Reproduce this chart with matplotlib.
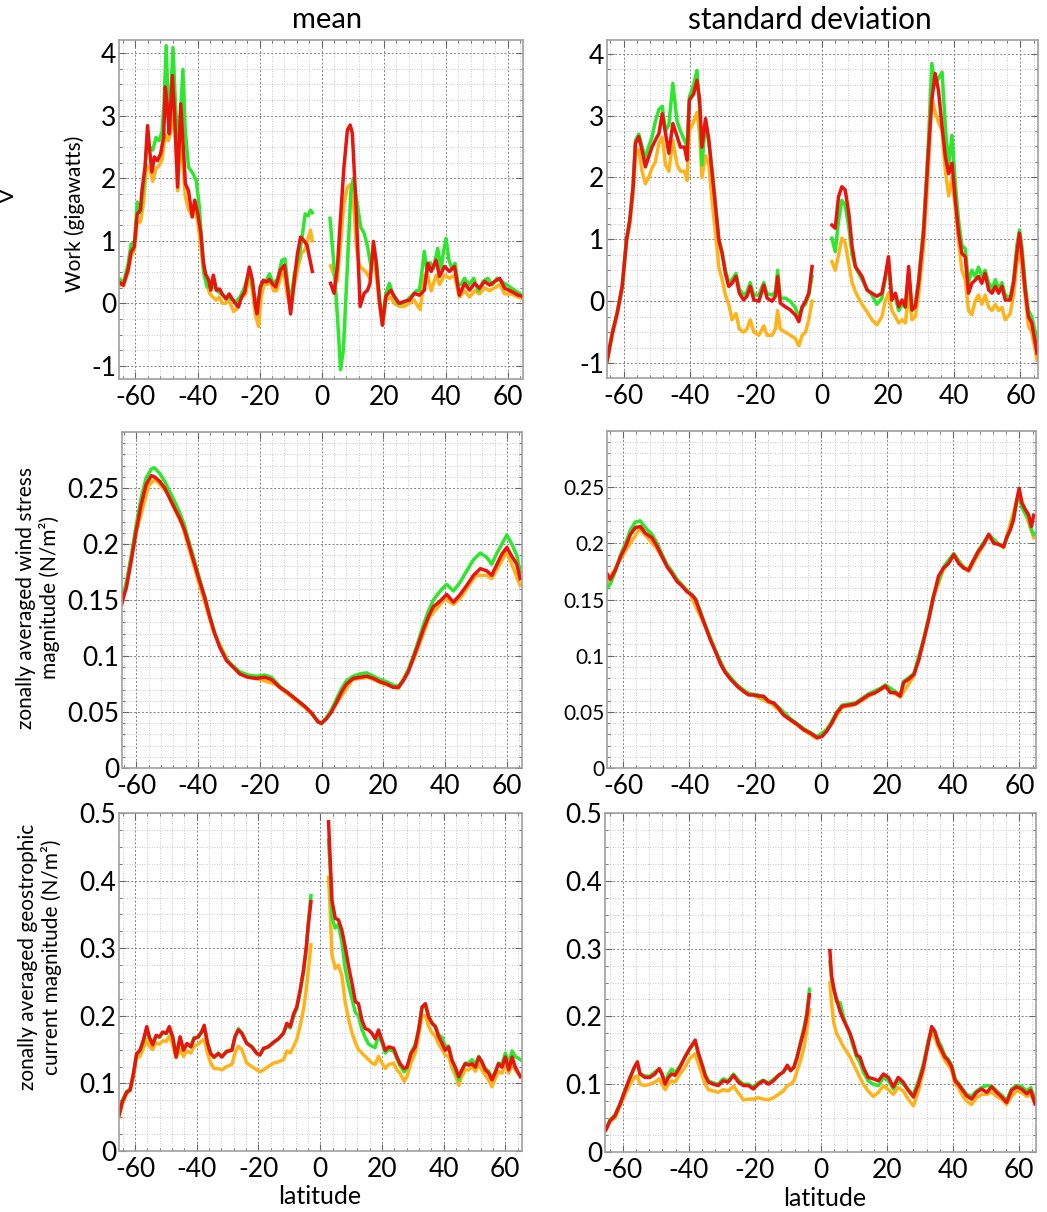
import numpy as np
import matplotlib.pyplot as plt
from matplotlib.ticker import AutoMinorLocator, FuncFormatter

plt.rcParams['font.family'] = ['Lato', 'DejaVu Sans']
plt.rcParams['axes.unicode_minus'] = False

nan = np.nan

# ---- work, mean (gigawatts) ----
lat_wm_red = [-65.4, -63.9, -62.4, -61.4, -60.4, -59.4, -58.4, -57.9, -56.9, -56.1,
              -55.4, -54.7, -53.9, -52.9, -51.9, -50.9, -50.4, -49.7, -49.1, -48.1,
              -47.4, -46.4, -45.4, -44.7, -43.9, -42.9, -41.7, -40.9, -39.9, -38.9,
              -38.1, -37.4, -36.4, -35.7, -34.9, -33.9, -32.9, -31.8, -30.8, -29.8,
              -28.8, -27.8, -26.8, -25.8, -24.8, -23.3, -22.3, -21.3, -20.8, -19.8,
              -18.8, -17.8, -16.8, -15.8, -14.8, -13.3, -12.0, -11.0, -10.0, -8.8,
              -7.8, -6.8, -5.8, -4.7, -3.0, nan,
              2.9, 4.0, 5.1, 6.1, 7.2, 8.3, 9.2, 9.9, 11.0, 12.4,
              13.7, 14.8, 15.6, 16.7, 17.5, 18.6, 19.6, 20.7, 22.3, 23.4,
              25.0, 26.6, 28.3, 29.9, 31.5, 33.1, 34.2, 35.3, 36.9, 38.0,
              39.6, 41.2, 42.8, 44.4, 46.1, 47.7, 49.3, 50.9, 52.5, 54.2,
              55.8, 57.4, 59.0, 61.2, 63.3, 64.9]
wm_red = [0.34, 0.29, 0.53, 0.82, 0.90, 1.43, 1.49, 1.80, 2.18, 2.84,
          2.44, 2.10, 2.34, 2.28, 2.39, 2.66, 3.46, 3.14, 2.71, 3.64,
          3.03, 1.86, 3.19, 2.60, 1.91, 1.80, 1.38, 1.65, 1.43, 1.11,
          0.66, 0.47, 0.37, 0.21, 0.45, 0.21, 0.23, 0.13, 0.07, 0.15,
          0.07, 0.0, -0.06, 0.10, 0.18, 0.58, 0.37, -0.06, -0.17, 0.26,
          0.37, 0.34, 0.38, 0.31, 0.26, 0.53, 0.61, 0.26, -0.17, 0.37,
          0.79, 1.06, 1.01, 0.93, 0.51, nan,
          0.32, 0.16, 0.59, 1.38, 2.18, 2.77, 2.85, 2.72, 1.65, -0.05,
          0.16, 0.21, 0.32, 0.99, 0.69, 0.05, -0.35, 0.11, 0.21, 0.11,
          0.0, 0.03, 0.05, 0.16, 0.13, 0.21, 0.64, 0.51, 0.69, 0.43,
          0.59, 0.51, 0.59, 0.13, 0.32, 0.21, 0.32, 0.24, 0.35, 0.29,
          0.35, 0.40, 0.24, 0.19, 0.13, 0.11]

lat_wm_green = [-65.4, -63.9, -62.4, -61.4, -60.4, -59.4, -58.4, -57.4, -56.4, -55.4,
                -54.4, -53.4, -52.4, -51.4, -50.8, -50.1, -49.4, -48.9, -47.9, -47.2,
                -46.4, -45.5, -44.7, -44.0, -42.9, -41.4, -40.4, -39.4, -38.4, -37.9,
                -36.9, -35.4, -33.9, -32.4, -30.8, -29.3, -27.8, -26.3, -24.8, -23.3,
                -21.8, -20.8, -19.3, -17.8, -16.8, -15.8, -14.3, -12.8, -11.8, -10.8,
                -10.0, -8.8, -7.3, -6.3, -5.3, -4.3, -3.6, -3.0, nan,
                2.7, 4.0, 5.1, 6.1, 7.0, 8.3, 9.4, 10.2, 11.3, 12.6,
                13.7, 14.8, 15.9, 16.9, 17.8, 18.6, 19.6, 20.7, 21.8, 23.0,
                24.5, 26.0, 27.5, 29.0, 30.5, 31.5, 32.3, 33.1, 34.0, 35.0,
                36.0, 37.4, 38.5, 39.2, 40.1, 41.0, 42.0, 43.0, 44.0, 45.0,
                46.0, 47.5, 49.0, 50.5, 52.0, 53.5, 55.0, 56.5, 58.0, 59.5,
                61.0, 62.5, 64.0, 64.9]
wm_green = [0.40, 0.33, 0.62, 0.95, 0.95, 1.62, 1.45, 1.85, 2.45, 2.50,
            2.45, 2.65, 2.60, 2.75, 3.20, 4.12, 3.10, 3.00, 4.09, 3.30,
            2.50, 3.00, 3.74, 2.80, 2.18, 2.07, 1.96, 1.54, 0.79, 0.47,
            0.26, 0.31, 0.21, 0.15, 0.10, 0.07, 0.02, 0.10, 0.26, 0.53,
            0.15, -0.06, 0.31, 0.37, 0.47, 0.34, 0.37, 0.69, 0.71, 0.26,
            0.0, 0.47, 0.74, 1.06, 1.43, 1.40, 1.49, 1.45, nan,
            1.36, 0.59, -0.21, -1.06, -0.75, 0.59, 1.76, 2.00, 1.65, 1.22,
            1.12, 0.91, 0.59, 0.85, 0.60, 0.10, -0.30, 0.15, 0.32, 0.15,
            0.0, 0.0, 0.05, 0.12, 0.20, 0.20, 0.50, 0.83, 0.50, 0.65,
            0.55, 0.88, 0.55, 0.80, 1.04, 0.70, 0.55, 0.64, 0.30, 0.30,
            0.40, 0.30, 0.40, 0.20, 0.35, 0.40, 0.30, 0.40, 0.35, 0.30,
            0.25, 0.20, 0.15, 0.12]

lat_wm_orange = [-65.4, -63.9, -62.4, -61.4, -60.4, -59.4, -58.4, -57.4, -56.4, -55.4,
                 -54.4, -53.4, -52.4, -51.4, -50.4, -49.4, -48.4, -47.8, -47.0, -46.4,
                 -45.5, -44.7, -43.9, -42.9, -41.9, -40.9, -39.9, -38.9, -38.1, -37.0,
                 -36.0, -35.0, -34.0, -33.0, -32.0, -31.0, -30.0, -29.0, -28.4, -27.5,
                 -26.5, -25.5, -24.5, -23.3, -22.3, -21.3, -20.3, -19.5, -18.5, -17.5,
                 -16.5, -15.5, -14.5, -13.3, -12.3, -11.3, -10.0, -8.8, -7.5, -6.5,
                 -5.5, -4.5, -3.6, -3.0, nan,
                 2.9, 4.0, 5.0, 6.0, 7.2, 8.3, 9.3, 10.3, 11.2, 12.2,
                 13.2, 14.3, 15.5, 16.7, 17.5, 18.6, 19.6, 20.7, 22.3, 23.4,
                 25.0, 26.6, 28.3, 29.9, 31.0, 31.8, 33.1, 34.2, 35.3, 36.9,
                 38.0, 39.6, 41.2, 42.8, 44.4, 46.1, 47.7, 49.3, 50.9, 52.5,
                 54.2, 55.8, 57.4, 59.0, 61.2, 63.3, 64.9]
wm_orange = [0.30, 0.28, 0.50, 0.75, 0.85, 1.30, 1.30, 1.60, 2.20, 2.15,
             1.95, 2.15, 2.20, 2.30, 2.70, 2.60, 2.80, 3.10, 2.60, 1.80,
             2.90, 2.20, 1.70, 1.50, 1.41, 1.50, 1.30, 0.90, 0.50, 0.30,
             0.15, 0.10, 0.05, 0.10, 0.0, 0.0, 0.05, -0.05, -0.13, -0.10,
             0.05, 0.10, 0.15, 0.45, 0.20, -0.20, -0.37, 0.10, 0.30, 0.30,
             0.35, 0.20, 0.20, 0.40, 0.55, 0.20, -0.10, 0.30, 0.60, 0.80,
             0.85, 1.00, 1.17, 1.00, nan,
             0.60, 0.45, 0.35, 0.90, 1.60, 1.85, 1.90, 1.60, 0.90, 0.60,
             0.55, 0.50, 0.40, 0.85, 0.50, 0.0, -0.35, 0.05, 0.10, 0.0,
             -0.05, -0.05, 0.0, 0.05, -0.05, -0.10, 0.45, 0.45, 0.20, 0.45,
             0.30, 0.45, 0.40, 0.45, 0.10, 0.20, 0.10, 0.20, 0.15, 0.25,
             0.20, 0.25, 0.30, 0.15, 0.15, 0.10, 0.07]

# ---- work, standard deviation ----
lat_ws = [-65.0, -63.4, -61.9, -60.4, -59.1, -58.1, -57.1, -56.4, -55.4, -54.4,
          -53.4, -52.4, -51.4, -50.4, -49.3, -48.3, -47.3, -46.3, -45.1, -43.8,
          -42.8, -41.6, -40.8, -40.1, -38.8, -37.8, -37.0, -36.3, -35.2, -34.2,
          -33.2, -32.2, -31.2, -30.2, -29.2, -28.2, -27.2, -26.0, -25.0, -23.7,
          -22.7, -21.7, -20.6, -19.1, -17.6, -16.6, -15.1, -14.1, -13.4, -12.6,
          -11.1, -9.6, -8.1, -7.0, -6.0, -5.0, -4.0, -3.0, nan,
          3.0, 4.0, 5.0, 6.0, 7.0, 8.1, 9.1, 10.1, 11.1, 12.1,
          13.6, 15.1, 16.6, 18.1, 19.1, 20.1, 21.1, 22.2, 23.2, 24.2,
          25.2, 26.2, 27.2, 28.2, 29.2, 30.7, 32.2, 33.2, 34.2, 35.2,
          36.3, 37.3, 38.3, 39.3, 40.3, 41.3, 42.3, 43.3, 44.3, 45.3,
          46.3, 47.3, 48.3, 49.3, 50.4, 51.4, 52.4, 53.4, 54.4, 55.4,
          56.9, 57.9, 58.9, 59.7, 60.4, 61.4, 62.4, 63.4, 64.5, 65.0]
ws_red = [-0.97, -0.52, -0.19, 0.24, 0.99, 1.31, 1.85, 2.55, 2.66, 2.44,
          2.17, 2.33, 2.49, 2.60, 2.71, 3.03, 2.71, 2.39, 2.87, 2.66,
          2.49, 2.49, 2.28, 3.25, 3.35, 3.57, 3.25, 2.49, 2.95, 2.60,
          2.06, 1.53, 0.99, 0.77, 0.45, 0.24, 0.29, 0.40, 0.13, 0.02,
          0.08, 0.24, 0.02, 0.0, 0.26, 0.05, 0.0, 0.08, 0.40, -0.03,
          -0.09, -0.14, -0.22, -0.33, -0.09, 0.0, 0.13, 0.56, nan,
          1.23, 1.18, 1.69, 1.85, 1.80, 1.42, 0.88, 0.56, 0.48, 0.40,
          0.18, 0.13, 0.08, 0.13, 0.40, 0.72, 0.02, 0.13, -0.09, 0.02,
          -0.09, 0.56, -0.14, -0.09, 0.29, 1.10, 2.44, 3.25, 3.68, 3.41,
          2.82, 2.33, 2.06, 2.23, 1.63, 1.10, 0.77, 0.72, 0.13, 0.29,
          0.34, 0.40, 0.29, 0.45, 0.18, 0.13, 0.24, 0.13, 0.24, 0.02,
          0.02, 0.29, 0.77, 1.10, 0.77, 0.18, -0.25, -0.35, -0.68, -0.84]
ws_green = [-0.95, -0.50, -0.17, 0.26, 1.00, 1.33, 1.90, 2.60, 2.70, 2.50,
            2.30, 2.50, 2.65, 2.90, 3.10, 3.15, 2.75, 2.85, 3.52, 2.90,
            2.75, 2.60, 2.50, 3.30, 3.50, 3.73, 3.10, 2.20, 2.90, 2.55,
            2.10, 1.55, 1.00, 0.80, 0.50, 0.30, 0.35, 0.45, 0.20, 0.10,
            0.15, 0.30, 0.10, 0.10, 0.30, 0.12, 0.10, 0.15, 0.50, 0.05,
            0.05, 0.0, -0.10, -0.25, -0.10, -0.05, 0.10, 0.40, nan,
            1.02, 0.80, 1.30, 1.63, 1.55, 1.20, 0.75, 0.55, 0.45, 0.35,
            0.20, 0.10, -0.05, 0.05, 0.35, 0.60, 0.10, 0.05, -0.15, -0.05,
            -0.10, 0.45, -0.15, -0.05, 0.35, 1.20, 2.60, 3.84, 3.50, 3.60,
            3.70, 2.80, 2.20, 2.68, 1.90, 1.30, 0.90, 0.85, 0.30, 0.50,
            0.40, 0.55, 0.40, 0.50, 0.30, 0.20, 0.35, 0.20, 0.30, 0.10,
            0.05, 0.35, 0.90, 1.15, 0.90, 0.30, -0.15, -0.25, -0.50, -0.65]
ws_orange = [-0.97, -0.55, -0.20, 0.20, 0.95, 1.25, 1.75, 2.35, 2.45, 2.10,
             1.90, 2.00, 2.15, 2.25, 2.55, 2.65, 2.20, 2.10, 2.60, 2.20,
             2.10, 2.10, 1.95, 2.75, 2.90, 3.05, 2.70, 2.00, 2.35, 2.20,
             1.60, 1.10, 0.55, 0.35, 0.10, -0.05, -0.30, -0.20, -0.45, -0.50,
             -0.45, -0.30, -0.50, -0.55, -0.40, -0.55, -0.55, -0.45, -0.15, -0.45,
             -0.50, -0.55, -0.60, -0.72, -0.55, -0.50, -0.30, 0.0, nan,
             0.64, 0.50, 0.75, 1.02, 0.95, 0.60, 0.30, 0.15, 0.05, -0.05,
             -0.17, -0.30, -0.38, -0.25, 0.0, 0.13, -0.15, -0.25, -0.35, -0.30,
             -0.35, 0.13, -0.30, -0.25, 0.10, 0.90, 2.20, 3.30, 3.05, 2.90,
             2.75, 2.10, 1.70, 2.00, 1.50, 0.95, 0.50, 0.35, -0.15, -0.22,
             0.0, 0.10, -0.05, 0.10, -0.10, -0.15, -0.05, -0.15, -0.10, -0.30,
             -0.20, 0.10, 0.60, 0.80, 0.60, 0.10, -0.40, -0.50, -0.80, -0.95]

# ---- wind stress, mean ----
lat_tm = [-64.6, -63.2, -61.6, -60.0, -58.4, -56.8, -55.1, -54.1, -52.4, -50.8,
          -49.2, -47.6, -45.9, -44.3, -42.7, -41.1, -39.5, -37.8, -36.2, -34.6,
          -33.0, -30.8, -28.6, -26.5, -23.8, -21.1, -18.4, -16.2, -13.5, -10.8,
          -8.1, -5.4, -3.2, -1.1, 0.0, 1.6, 3.2, 4.9, 6.5, 8.1,
          10.3, 12.4, 14.6, 16.8, 18.9, 21.1, 23.2, 24.9, 26.5, 28.1,
          29.7, 31.4, 33.0, 34.6, 36.2, 38.4, 40.5, 42.7, 44.9, 47.0,
          49.2, 51.4, 53.5, 55.1, 56.8, 58.4, 60.0, 61.6, 63.2, 64.3]
tm_red = [0.148, 0.161, 0.185, 0.212, 0.235, 0.253, 0.261, 0.260, 0.256, 0.250,
          0.241, 0.232, 0.223, 0.212, 0.197, 0.182, 0.167, 0.152, 0.135, 0.120,
          0.108, 0.096, 0.090, 0.084, 0.081, 0.080, 0.081, 0.079, 0.072, 0.067,
          0.061, 0.055, 0.049, 0.041, 0.040, 0.044, 0.050, 0.059, 0.068, 0.075,
          0.080, 0.081, 0.082, 0.080, 0.077, 0.075, 0.072, 0.072, 0.078, 0.086,
          0.098, 0.111, 0.124, 0.135, 0.144, 0.149, 0.155, 0.148, 0.155, 0.163,
          0.172, 0.178, 0.176, 0.172, 0.182, 0.191, 0.197, 0.189, 0.182, 0.169]
tm_green = [0.152, 0.165, 0.190, 0.217, 0.241, 0.259, 0.267, 0.268, 0.263, 0.256,
            0.247, 0.238, 0.228, 0.216, 0.200, 0.185, 0.169, 0.153, 0.136, 0.121,
            0.109, 0.097, 0.091, 0.086, 0.083, 0.082, 0.083, 0.081, 0.073, 0.067,
            0.061, 0.055, 0.049, 0.041, 0.040, 0.045, 0.052, 0.062, 0.071, 0.078,
            0.082, 0.084, 0.085, 0.082, 0.079, 0.077, 0.074, 0.073, 0.079, 0.088,
            0.100, 0.114, 0.128, 0.140, 0.150, 0.158, 0.164, 0.158, 0.166, 0.176,
            0.186, 0.192, 0.188, 0.182, 0.192, 0.200, 0.208, 0.200, 0.190, 0.175]
lat_tm_orange = [-64.6, -60, -56, -54, -50, -45, -40, -35, -30, -25,
                 -20, -15, -10, -5, 0, 5, 10, 15, 20, 24.9,
                 30, 35, 40, 42.7, 45, 50, 53.5, 55.1, 60, 64.3]
tm_orange = [0.146, 0.210, 0.252, 0.258, 0.246, 0.216, 0.168, 0.122, 0.094, 0.082,
             0.079, 0.075, 0.064, 0.053, 0.039, 0.058, 0.079, 0.081, 0.075, 0.071,
             0.098, 0.135, 0.151, 0.146, 0.152, 0.172, 0.172, 0.169, 0.193, 0.163]

# ---- wind stress, standard deviation ----
lat_ts = [-64.9, -63.9, -62.4, -60.8, -59.3, -57.8, -56.3, -54.8, -53.3, -51.3,
          -49.7, -48.2, -46.7, -45.2, -43.7, -42.2, -40.7, -39.2, -38.1, -36.6,
          -35.1, -33.6, -32.1, -30.6, -29.1, -27.5, -25.5, -23.5, -22.0, -20.5,
          -19.0, -17.5, -15.9, -14.4, -12.9, -11.4, -9.4, -7.4, -5.3, -3.3,
          -1.3, 0.2, 1.7, 3.2, 4.7, 6.3, 8.3, 10.3, 12.3, 14.3,
          16.3, 17.9, 19.4, 20.9, 22.4, 23.9, 24.9, 26.4, 28.0, 29.5,
          31.0, 32.5, 34.0, 35.5, 37.0, 38.5, 40.1, 41.6, 43.1, 44.6,
          46.1, 47.6, 49.1, 50.7, 52.2, 53.7, 55.2, 56.2, 57.2, 58.2,
          59.2, 59.9, 60.7, 61.8, 62.8, 63.6, 64.3]
ts_red = [0.173, 0.168, 0.176, 0.188, 0.197, 0.208, 0.214, 0.215, 0.209, 0.205,
          0.197, 0.188, 0.179, 0.173, 0.166, 0.162, 0.157, 0.154, 0.150, 0.138,
          0.126, 0.114, 0.104, 0.093, 0.085, 0.079, 0.073, 0.068, 0.065, 0.065,
          0.064, 0.064, 0.059, 0.058, 0.053, 0.047, 0.043, 0.039, 0.034, 0.031,
          0.027, 0.028, 0.033, 0.040, 0.049, 0.055, 0.056, 0.057, 0.061, 0.065,
          0.067, 0.070, 0.073, 0.067, 0.067, 0.064, 0.076, 0.079, 0.083, 0.096,
          0.114, 0.132, 0.153, 0.171, 0.178, 0.182, 0.190, 0.182, 0.178, 0.176,
          0.185, 0.193, 0.199, 0.208, 0.200, 0.199, 0.197, 0.206, 0.212, 0.221,
          0.239, 0.249, 0.236, 0.230, 0.225, 0.215, 0.225]
lat_ts_green = [-64.9, -63.9, -62.4, -60.8, -59.3, -57.8, -56.3, -54.8, -53.3, -51.3,
                -49.7, -48.2, -46.7, -45.2, -43.7, -40.7, -38.1, -35.1, -32.1, -29.1,
                -25.5, -22.0, -19.0, -15.9, -12.9, -9.4, -5.3, -1.3, 1.7, 4.7,
                6.3, 10.3, 14.3, 17.9, 19.4, 22.4, 23.9, 24.9, 28.0, 31.0,
                34.0, 37.0, 40.1, 43.1, 44.6, 47.6, 50.7, 53.7, 55.2, 57.2,
                59.9, 60.7, 61.8, 62.8, 63.6, 64.3]
ts_green = [0.160, 0.164, 0.175, 0.190, 0.200, 0.212, 0.219, 0.220, 0.214, 0.208,
            0.200, 0.190, 0.181, 0.175, 0.168, 0.158, 0.151, 0.127, 0.105, 0.086,
            0.074, 0.066, 0.065, 0.060, 0.054, 0.044, 0.035, 0.028, 0.034, 0.050,
            0.056, 0.058, 0.066, 0.071, 0.074, 0.068, 0.065, 0.077, 0.084, 0.115,
            0.154, 0.179, 0.191, 0.178, 0.177, 0.194, 0.208, 0.199, 0.197, 0.212,
            0.245, 0.232, 0.226, 0.222, 0.212, 0.208]
lat_ts_orange = [-64.9, -60, -55, -50, -45, -40, -35, -30, -25, -20,
                 -15, -10, -5, -1.3, 3, 6.3, 10, 15, 19.4, 23.9,
                 28, 31, 34, 37, 40, 44.6, 50.7, 55.2, 59.9, 62, 64.3]
ts_orange = [0.165, 0.190, 0.213, 0.196, 0.172, 0.156, 0.125, 0.090, 0.071, 0.064,
             0.057, 0.044, 0.033, 0.026, 0.039, 0.054, 0.056, 0.065, 0.072, 0.063,
             0.082, 0.113, 0.152, 0.177, 0.189, 0.175, 0.207, 0.196, 0.246, 0.225, 0.205]

# ---- geostrophic current, mean ----
lat_gm = [-65.2, -64.1, -62.7, -61.6, -60.5, -59.5, -58.4, -57.3, -56.2, -55.4,
          -54.3, -53.2, -52.1, -51.0, -49.9, -48.9, -47.8, -46.7, -45.4, -44.3,
          -43.2, -41.9, -40.9, -39.5, -38.4, -37.6, -36.5, -35.5, -34.4, -33.0,
          -31.9, -30.3, -28.6, -27.6, -26.5, -25.4, -23.8, -22.2, -20.5, -19.5,
          -18.4, -16.8, -15.1, -13.5, -11.9, -10.8, -9.7, -8.6, -7.6, -6.5,
          -5.4, -4.5, -3.8, -3.0, nan,
          2.7, 3.2, 3.8, 4.9, 5.9, 7.0, 8.1, 9.2, 10.3, 11.4,
          12.4, 13.5, 14.6, 15.7, 16.8, 17.8, 18.9, 20.0, 21.1, 22.2,
          23.8, 24.9, 25.9, 27.2, 28.1, 29.4, 30.8, 31.9, 33.0, 34.1,
          35.1, 36.2, 37.3, 38.4, 39.5, 40.5, 41.6, 42.7, 43.8, 44.9,
          45.9, 47.0, 48.1, 49.2, 50.3, 51.4, 52.4, 53.5, 54.6, 55.7,
          56.8, 57.8, 58.9, 60.0, 61.1, 62.2, 63.2, 64.9]
gm_red = [0.053, 0.073, 0.087, 0.090, 0.115, 0.144, 0.149, 0.164, 0.184, 0.169,
          0.157, 0.171, 0.169, 0.176, 0.174, 0.184, 0.169, 0.139, 0.169, 0.149,
          0.159, 0.154, 0.166, 0.169, 0.176, 0.186, 0.159, 0.144, 0.139, 0.144,
          0.139, 0.147, 0.149, 0.169, 0.179, 0.174, 0.159, 0.154, 0.144, 0.142,
          0.152, 0.154, 0.161, 0.166, 0.174, 0.189, 0.184, 0.203, 0.213, 0.238,
          0.268, 0.302, 0.337, 0.369, nan,
          0.487, 0.436, 0.371, 0.344, 0.342, 0.327, 0.302, 0.273, 0.248, 0.221,
          0.218, 0.194, 0.181, 0.179, 0.174, 0.166, 0.179, 0.164, 0.149, 0.154,
          0.152, 0.139, 0.129, 0.122, 0.124, 0.144, 0.154, 0.179, 0.213, 0.218,
          0.199, 0.189, 0.184, 0.169, 0.159, 0.149, 0.154, 0.134, 0.124, 0.110,
          0.120, 0.129, 0.127, 0.129, 0.124, 0.139, 0.132, 0.120, 0.115, 0.105,
          0.117, 0.129, 0.124, 0.139, 0.120, 0.139, 0.124, 0.110]
gm_green = [0.055, 0.075, 0.088, 0.092, 0.115, 0.142, 0.148, 0.162, 0.180, 0.167,
            0.158, 0.170, 0.168, 0.175, 0.174, 0.180, 0.168, 0.140, 0.165, 0.150,
            0.158, 0.155, 0.168, 0.168, 0.178, 0.182, 0.160, 0.145, 0.138, 0.145,
            0.140, 0.148, 0.150, 0.170, 0.181, 0.175, 0.160, 0.155, 0.145, 0.143,
            0.150, 0.155, 0.160, 0.166, 0.175, 0.185, 0.182, 0.200, 0.210, 0.235,
            0.265, 0.300, 0.340, 0.378, nan,
            0.460, 0.420, 0.345, 0.330, 0.335, 0.310, 0.270, 0.245, 0.225, 0.205,
            0.200, 0.180, 0.168, 0.158, 0.155, 0.153, 0.172, 0.160, 0.145, 0.150,
            0.148, 0.136, 0.126, 0.117, 0.122, 0.145, 0.158, 0.180, 0.212, 0.215,
            0.200, 0.190, 0.185, 0.172, 0.168, 0.155, 0.155, 0.135, 0.120, 0.105,
            0.118, 0.130, 0.130, 0.135, 0.128, 0.140, 0.130, 0.122, 0.118, 0.108,
            0.118, 0.130, 0.128, 0.145, 0.130, 0.148, 0.140, 0.135]
gm_orange = [0.050, 0.070, 0.085, 0.090, 0.110, 0.138, 0.140, 0.152, 0.165, 0.155,
             0.150, 0.160, 0.158, 0.163, 0.162, 0.170, 0.157, 0.138, 0.150, 0.140,
             0.148, 0.145, 0.155, 0.158, 0.163, 0.165, 0.145, 0.130, 0.122, 0.122,
             0.120, 0.125, 0.128, 0.145, 0.155, 0.150, 0.130, 0.125, 0.120, 0.117,
             0.120, 0.125, 0.130, 0.132, 0.135, 0.148, 0.145, 0.155, 0.165, 0.185,
             0.210, 0.240, 0.270, 0.305, nan,
             0.405, 0.360, 0.290, 0.270, 0.275, 0.260, 0.220, 0.195, 0.175, 0.160,
             0.150, 0.145, 0.140, 0.135, 0.130, 0.128, 0.140, 0.130, 0.122, 0.128,
             0.130, 0.120, 0.115, 0.103, 0.110, 0.130, 0.145, 0.170, 0.200, 0.200,
             0.185, 0.175, 0.170, 0.158, 0.150, 0.142, 0.140, 0.123, 0.112, 0.097,
             0.110, 0.120, 0.120, 0.125, 0.118, 0.128, 0.120, 0.112, 0.105, 0.095,
             0.108, 0.118, 0.115, 0.128, 0.115, 0.130, 0.120, 0.110]

# ---- geostrophic current, standard deviation ----
lat_gs = [-65.1, -63.9, -62.4, -60.8, -59.3, -57.8, -56.5, -55.6, -54.8, -53.3,
          -51.8, -50.3, -49.0, -48.2, -47.2, -46.2, -45.2, -44.2, -42.7, -41.2,
          -39.7, -38.1, -37.1, -36.1, -35.1, -34.1, -32.6, -31.1, -29.6, -28.1,
          -26.5, -25.0, -23.5, -22.0, -20.5, -19.0, -17.5, -15.9, -14.4, -12.9,
          -11.4, -10.2, -9.2, -8.2, -7.2, -6.2, -5.1, -4.3, -3.5, nan,
          2.7, 3.2, 3.9, 4.7, 5.8, 6.8, 7.8, 8.8, 9.8, 10.8,
          11.8, 12.8, 14.3, 15.8, 17.4, 18.9, 20.4, 21.9, 23.4, 24.9,
          26.4, 28.0, 29.5, 31.0, 32.5, 33.5, 34.5, 35.5, 36.5, 37.5,
          38.5, 39.6, 40.6, 41.6, 42.6, 44.1, 45.6, 47.1, 48.6, 50.2,
          51.7, 53.2, 54.7, 56.2, 57.7, 59.2, 60.7, 62.3, 63.5, 64.8]
gs_red = [0.033, 0.046, 0.053, 0.071, 0.091, 0.110, 0.125, 0.133, 0.115, 0.110,
          0.110, 0.115, 0.123, 0.115, 0.100, 0.110, 0.115, 0.113, 0.125, 0.140,
          0.153, 0.165, 0.145, 0.130, 0.113, 0.103, 0.100, 0.098, 0.105, 0.103,
          0.113, 0.103, 0.098, 0.098, 0.093, 0.100, 0.105, 0.100, 0.105, 0.113,
          0.118, 0.128, 0.120, 0.125, 0.140, 0.160, 0.180, 0.200, 0.232, nan,
          0.297, 0.260, 0.240, 0.225, 0.207, 0.195, 0.185, 0.175, 0.160, 0.143,
          0.140, 0.125, 0.110, 0.108, 0.105, 0.115, 0.110, 0.096, 0.110, 0.103,
          0.091, 0.081, 0.100, 0.125, 0.160, 0.185, 0.178, 0.160, 0.150, 0.140,
          0.135, 0.125, 0.105, 0.100, 0.093, 0.083, 0.078, 0.088, 0.093, 0.088,
          0.096, 0.088, 0.081, 0.073, 0.091, 0.096, 0.093, 0.086, 0.091, 0.071]
gs_green = [0.035, 0.047, 0.055, 0.072, 0.092, 0.110, 0.125, 0.130, 0.116, 0.112,
            0.112, 0.118, 0.122, 0.117, 0.103, 0.115, 0.122, 0.117, 0.127, 0.140,
            0.152, 0.162, 0.145, 0.130, 0.115, 0.105, 0.102, 0.100, 0.108, 0.105,
            0.115, 0.106, 0.100, 0.100, 0.096, 0.102, 0.106, 0.102, 0.107, 0.113,
            0.118, 0.125, 0.120, 0.125, 0.142, 0.162, 0.185, 0.205, 0.240, nan,
            0.280, 0.255, 0.240, 0.222, 0.220, 0.200, 0.185, 0.172, 0.155, 0.140,
            0.132, 0.118, 0.105, 0.100, 0.098, 0.110, 0.105, 0.093, 0.105, 0.100,
            0.092, 0.085, 0.105, 0.130, 0.165, 0.180, 0.175, 0.165, 0.155, 0.142,
            0.137, 0.128, 0.108, 0.102, 0.095, 0.085, 0.082, 0.090, 0.095, 0.098,
            0.097, 0.090, 0.084, 0.076, 0.093, 0.098, 0.097, 0.090, 0.095, 0.078]
gs_orange = [0.033, 0.045, 0.050, 0.068, 0.085, 0.100, 0.110, 0.112, 0.100, 0.098,
             0.100, 0.103, 0.108, 0.100, 0.092, 0.100, 0.105, 0.103, 0.115, 0.125,
             0.138, 0.145, 0.130, 0.115, 0.100, 0.092, 0.090, 0.088, 0.092, 0.090,
             0.097, 0.087, 0.077, 0.078, 0.078, 0.080, 0.078, 0.077, 0.080, 0.085,
             0.090, 0.098, 0.100, 0.105, 0.120, 0.135, 0.155, 0.180, 0.210, nan,
             0.250, 0.220, 0.190, 0.175, 0.165, 0.155, 0.148, 0.140, 0.130, 0.120,
             0.110, 0.100, 0.090, 0.082, 0.088, 0.098, 0.092, 0.085, 0.095, 0.090,
             0.078, 0.068, 0.090, 0.120, 0.165, 0.175, 0.168, 0.155, 0.145, 0.135,
             0.128, 0.120, 0.100, 0.095, 0.085, 0.075, 0.070, 0.080, 0.085, 0.085,
             0.088, 0.082, 0.078, 0.070, 0.082, 0.090, 0.088, 0.082, 0.085, 0.072]

x_ticks = [-60, -40, -20, 0, 20, 40, 60]
col_orange = '#ffb31a'
col_green = '#2ee62e'
col_red = '#e8150f'

W, H = 1047, 1212
fig = plt.figure(figsize=(W / 100, H / 100), dpi=100)


def box(left, top, right, bottom):
    return [left / W, 1 - bottom / H, (right - left) / W, (bottom - top) / H]


panels = [
    dict(rect=box(119, 40, 523, 379), xlim=(-65.3, 64.9), ylim=(-1.21, 4.21),
         yt=[-1, 0, 1, 2, 3, 4], ymin=4, ysize=19,
         series=[(lat_wm_orange, wm_orange), (lat_wm_green, wm_green), (lat_wm_red, wm_red)]),
    dict(rect=box(607, 40, 1038, 378), xlim=(-65.0, 65.3), ylim=(-1.24, 4.22),
         yt=[-1, 0, 1, 2, 3, 4], ymin=4, ysize=19,
         series=[(lat_ws, ws_orange), (lat_ws, ws_green), (lat_ws, ws_red)]),
    dict(rect=box(122, 432, 522, 768), xlim=(-64.6, 64.9), ylim=(0, 0.3),
         yt=[0, 0.05, 0.1, 0.15, 0.2, 0.25], ymin=5, ysize=19,
         series=[(lat_tm_orange, tm_orange), (lat_tm, tm_green), (lat_tm, tm_red)]),
    dict(rect=box(607, 431, 1036, 768), xlim=(-64.9, 65.0), ylim=(0, 0.3),
         yt=[0, 0.05, 0.1, 0.15, 0.2, 0.25], ymin=5, ysize=15,
         series=[(lat_ts_orange, ts_orange), (lat_ts_green, ts_green), (lat_ts, ts_red)]),
    dict(rect=box(119, 813, 522, 1151), xlim=(-65.2, 65.4), ylim=(0, 0.5),
         yt=[0, 0.1, 0.2, 0.3, 0.4, 0.5], ymin=4, ysize=19,
         series=[(lat_gm, gm_orange), (lat_gm, gm_green), (lat_gm, gm_red)]),
    dict(rect=box(605, 813, 1036, 1152), xlim=(-65.4, 65.1), ylim=(0, 0.5),
         yt=[0, 0.1, 0.2, 0.3, 0.4, 0.5], ymin=4, ysize=19,
         series=[(lat_gs, gs_orange), (lat_gs, gs_green), (lat_gs, gs_red)]),
]

for p in panels:
    ax = fig.add_axes(p['rect'])
    for (lat, vals), c in zip(p['series'], [col_orange, col_green, col_red]):
        ax.plot(lat, vals, color=c, lw=2.5, solid_joinstyle='round')
    ax.set_xlim(*p['xlim'])
    ax.set_ylim(*p['ylim'])
    ax.set_xticks(x_ticks)
    ax.set_yticks(p['yt'])
    ax.xaxis.set_minor_locator(AutoMinorLocator(5))
    ax.yaxis.set_minor_locator(AutoMinorLocator(p['ymin']))
    ax.yaxis.set_major_formatter(FuncFormatter(lambda v, pos: '%g' % v))
    ax.grid(which='major', color='#808080', linestyle=(0, (2, 2)), linewidth=0.7)
    ax.grid(which='minor', color='#b8b8b8', linestyle=(0, (1, 2)), linewidth=0.6)
    ax.set_axisbelow(True)
    ax.tick_params(which='both', direction='in', top=True, right=True, color='#666666')
    ax.tick_params(which='major', length=5, width=0.8)
    ax.tick_params(which='minor', length=2.5, width=0.6)
    ax.tick_params(axis='x', labelsize=19, pad=4)
    ax.tick_params(axis='y', labelsize=p['ysize'], pad=2)
    for s in ax.spines.values():
        s.set_color('#a0a0a0')
        s.set_linewidth(1.2)


def ftext(px, py, s, **kw):
    fig.text(px / W, 1 - py / H, s, ha='center', va='center', **kw)


ftext(327, 20, 'mean', fontsize=21)
ftext(810, 20, 'standard deviation', fontsize=21.5)
ftext(8, 195, 'V', fontsize=16, rotation=90)
ftext(75, 214, 'Work (gigawatts)', fontsize=15, rotation=90)
ftext(38, 598, 'zonally averaged wind stress\nmagnitude (N/m²)', fontsize=15,
      rotation=90, linespacing=1.15)
ftext(40, 957, 'zonally averaged geostrophic\ncurrent magnitude (N/m²)', fontsize=15,
      rotation=90, linespacing=1.15)
ftext(320, 1196, 'latitude', fontsize=18)
ftext(825, 1199, 'latitude', fontsize=18)

fig.savefig('out.png', dpi=100, facecolor='white')
